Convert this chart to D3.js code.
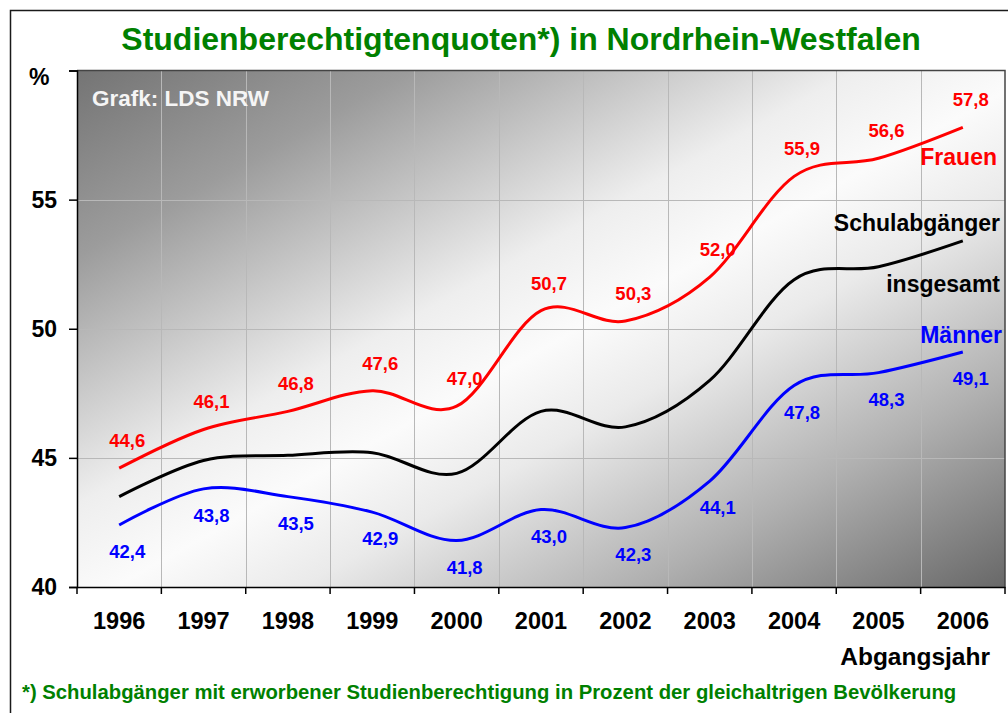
<!DOCTYPE html>
<html>
<head>
<meta charset="utf-8">
<script src="https://cdn.jsdelivr.net/npm/d3@7"></script>
<style>
  html, body { margin: 0; padding: 0; background: #ffffff; }
  svg { display: block; }
  text { font-family: "Liberation Sans", Arial, Helvetica, sans-serif; font-weight: bold; }
</style>
</head>
<body>
<svg id="chart" width="1008" height="713"></svg>
<script>
// ---- data ----
const years = ["1996","1997","1998","1999","2000","2001","2002","2003","2004","2005","2006"];
const frauen = [44.6, 46.1, 46.8, 47.6, 47.0, 50.7, 50.3, 52.0, 55.9, 56.6, 57.8];
const maenner = [42.4, 43.8, 43.5, 42.9, 41.8, 43.0, 42.3, 44.1, 47.8, 48.3, 49.1];
const insgesamt = [43.5, 44.9, 45.1, 45.2, 44.4, 46.8, 46.2, 48.0, 51.9, 52.4, 53.4];
const yTicks = [40, 45, 50, 55, 60];
const gridValues = [45, 50, 55];

const titleText = "Studienberechtigtenquoten*) in Nordrhein-Westfalen";
const footText = "*) Schulabgänger mit erworbener Studienberechtigung in Prozent der gleichaltrigen Bevölkerung";

// ---- layout ----
const svg = d3.select("#chart");
const L = 77, R = 1005, T = 70.5, B = 587;

const x = d3.scaleBand().domain(years).range([L, R]).padding(0);
const cx = d => x(d) + x.bandwidth() / 2;
const y = d3.scaleLinear().domain([40, 60]).range([B, T]);

// outer frame
svg.append("path")
  .attr("d", `M10.5,713 L10.5,10.5 L1008,10.5`)
  .attr("fill", "none").attr("stroke", "#1a1a1a").attr("stroke-width", 1.5);

// gradient background
const defs = svg.append("defs");
const grad = defs.append("linearGradient").attr("id", "bg")
  .attr("x1", 0).attr("y1", 0).attr("x2", 1).attr("y2", 1);
[[0, "#747474"], [0.18, "#9c9c9c"], [0.42, "#eeeeee"], [0.52, "#fbfbfb"], [0.62, "#eaeaea"], [0.8, "#b0b0b0"], [1, "#686868"]]
  .forEach(([o, c]) => grad.append("stop").attr("offset", o).attr("stop-color", c));

svg.append("rect").attr("x", L).attr("y", T).attr("width", R - L).attr("height", B - T)
  .attr("fill", "url(#bg)");

// gridlines
const grid = svg.append("g").attr("stroke", "#b8b8b8").attr("stroke-width", 1);
grid.selectAll("line.v").data(years.slice(1)).join("line")
  .attr("x1", d => Math.round(x(d)) + 0.5).attr("x2", d => Math.round(x(d)) + 0.5)
  .attr("y1", T).attr("y2", B);
grid.selectAll("line.h").data(gridValues).join("line")
  .attr("x1", L).attr("x2", R)
  .attr("y1", d => Math.round(y(d)) + 0.5).attr("y2", d => Math.round(y(d)) + 0.5);

// plot border (top/right)
svg.append("path")
  .attr("d", `M${L},${T} L${R},${T} L${R},${B}`)
  .attr("fill", "none").attr("stroke", "#444").attr("stroke-width", 1.5);

// y axis
const yAxis = d3.axisLeft(y).tickValues(yTicks).tickSize(8).tickPadding(12)
  .tickFormat(d => d === 60 ? "" : d3.format("d")(d));
const gy = svg.append("g").attr("transform", `translate(${L},0)`).call(yAxis);
gy.select(".domain").attr("stroke", "#000").attr("stroke-width", 1.5);
gy.selectAll(".tick line").attr("stroke", "#000").attr("stroke-width", 1.5);
gy.selectAll(".tick text").attr("font-size", 23).attr("fill", "#000")
  .style("font-family", '"Liberation Sans", Arial, sans-serif').style("font-weight", "bold");

svg.append("text").attr("x", 29).attr("y", 85).attr("font-size", 23).attr("fill", "#000").text("%");

// x axis
const xAxis = d3.axisBottom(x).tickSize(0).tickPadding(25);
const gx = svg.append("g").attr("transform", `translate(0,${B})`).call(xAxis);
gx.select(".domain").attr("stroke", "#000").attr("stroke-width", 1.5);
gx.selectAll(".tick text").attr("font-size", 23.5).attr("fill", "#000")
  .style("font-family", '"Liberation Sans", Arial, sans-serif').style("font-weight", "bold");
const edges = years.map(d => x(d)).concat([x.range()[1]]);
svg.append("g").selectAll("line").data(edges).join("line")
  .attr("x1", d => d).attr("x2", d => d).attr("y1", B).attr("y2", B + 7)
  .attr("stroke", "#000").attr("stroke-width", 1.5);

// lines
const line = d3.line().x((d, i) => cx(years[i])).y(d => y(d)).curve(d3.curveCatmullRom.alpha(0));
const series = [
  { vals: insgesamt, color: "#000000" },
  { vals: maenner, color: "#0000ff" },
  { vals: frauen, color: "#ff0000" }
];
series.forEach(s => {
  svg.append("path").datum(s.vals).attr("d", line)
    .attr("fill", "none").attr("stroke", s.color).attr("stroke-width", 3)
    .attr("stroke-linejoin", "round").attr("stroke-linecap", "butt");
});

// value labels
const fmt = v => d3.format(".1f")(v).replace(".", ",");
svg.append("g").selectAll("text").data(frauen).join("text")
  .attr("x", (d, i) => cx(years[i]) + 8).attr("y", d => y(d) - 21)
  .attr("text-anchor", "middle").attr("font-size", 18.5).attr("fill", "#ff0000")
  .text(fmt);
svg.append("g").selectAll("text").data(maenner).join("text")
  .attr("x", (d, i) => cx(years[i]) + 8).attr("y", d => y(d) + 33)
  .attr("text-anchor", "middle").attr("font-size", 18.5).attr("fill", "#0000ff")
  .text(fmt);

// series names
const names = [
  { t: "Frauen", c: "#ff0000", yb: 165, xr: 997 },
  { t: "Schulabgänger", c: "#000000", yb: 231, xr: 1000 },
  { t: "insgesamt", c: "#000000", yb: 292, xr: 1000 },
  { t: "Männer", c: "#0000ff", yb: 343, xr: 1002 }
];
svg.append("g").selectAll("text").data(names).join("text")
  .attr("x", d => d.xr).attr("y", d => d.yb).attr("text-anchor", "end")
  .attr("font-size", 23).attr("fill", d => d.c).text(d => d.t);

// source note
svg.append("text").attr("x", 92).attr("y", 106).attr("font-size", 22.5)
  .attr("fill", "#f5f5f5").text("Grafk: LDS NRW");

// title
svg.append("text").attr("x", 521).attr("y", 50).attr("text-anchor", "middle")
  .attr("font-size", 32).attr("fill", "#008000").text(titleText);

// x axis title
svg.append("text").attr("x", 990).attr("y", 665).attr("text-anchor", "end")
  .attr("font-size", 24.5).attr("fill", "#000").text("Abgangsjahr");

// footnote
svg.append("text").attr("x", 22).attr("y", 699).attr("font-size", 20.3)
  .attr("fill", "#008000").text(footText);
</script>
</body>
</html>
